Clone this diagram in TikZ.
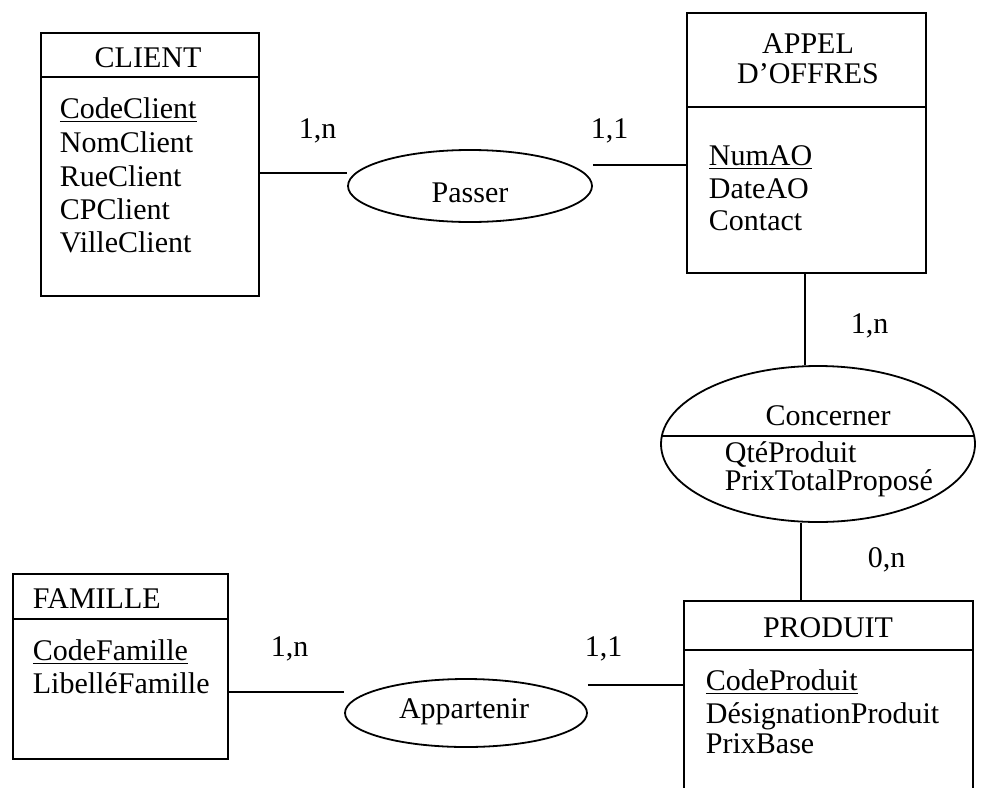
\documentclass[tikz,border=0pt]{standalone}
\usepackage{fontspec}
\setmainfont{Liberation Serif}
\usetikzlibrary{shapes.geometric}
\begin{document}
\begin{tikzpicture}[x=0.5pt,y=-0.5pt,line width=0.9pt,
  every node/.style={font=\fontsize{15}{18}\selectfont},
  entity/.style={draw,rectangle,inner sep=0pt,anchor=north west},
  assoc/.style={draw,ellipse,inner sep=0pt},
  txt/.style={anchor=base west,inner sep=0pt},
  ctxt/.style={anchor=base,inner sep=0pt}]
\useasboundingbox (0,0) rectangle (984,787);
\clip (0,0) rectangle (984,787);
\fill[white] (0,0) rectangle (984,787);

% entities
\node[entity,minimum width=109pt,minimum height=131.5pt] (client) at (40,32) {};
\draw (40,77) -- (258,77);
\node[ctxt] (clientT) at (148,67) {CLIENT};
\node[txt] (c1) at (59,118) {\underline{CodeClient}};
\node[txt] (c2) at (59,152) {NomClient};
\node[txt] (c3) at (59,186) {RueClient};
\node[txt] (c4) at (59,219) {CPClient};
\node[txt] (c5) at (59,252) {VilleClient};

\node[entity,minimum width=119.5pt,minimum height=130pt] (appel) at (686,12) {};
\draw (686,107) -- (925,107);
\node[ctxt] (appelT1) at (808,53) {APPEL};
\node[ctxt] (appelT2) at (808,83) {D’OFFRES};
\node[txt] (a1) at (708,165) {\underline{NumAO}};
\node[txt] (a2) at (708,198) {DateAO};
\node[txt] (a3) at (708,230) {Contact};

\node[entity,minimum width=107.5pt,minimum height=92.5pt] (famille) at (12,573) {};
\draw (12,619) -- (227,619);
\node[txt] (familleT) at (32,608) {FAMILLE};
\node[txt] (f1) at (32,660) {\underline{CodeFamille}};
\node[txt] (f2) at (32,693) {LibelléFamille};

\node[entity,minimum width=144.5pt,minimum height=100pt] (produit) at (683,600) {};
\draw (683,650) -- (972,650);
\node[ctxt] (produitT) at (828,637) {PRODUIT};
\node[txt] (p1) at (705,690) {\underline{CodeProduit}};
\node[txt] (p2) at (705,723) {DésignationProduit};
\node[txt] (p3) at (705,753) {PrixBase};

% associations
\node[assoc,minimum width=122pt,minimum height=36pt] (passer) at (470,186) {};
\node[ctxt] (passerT) at (470,202) {Passer};

\node[assoc,minimum width=121pt,minimum height=34pt] (appart) at (466,713) {};
\node[ctxt] (appartT) at (464,718) {Appartenir};

\node[assoc,minimum width=157pt,minimum height=78pt] (conc) at (818,444) {};
\draw ([shift={(-156,-8)}]conc.center) -- ([shift={(156,-8)}]conc.center);
\node[ctxt] (concT) at (828,425) {Concerner};
\node[txt] (k1) at (724,462) {QtéProduit};
\node[txt] (k2) at (724,490) {PrixTotalProposé};

% connectors
\coordinate (y1) at (0,173);
\coordinate (y2) at (0,165);
\coordinate (y3) at (0,692);
\coordinate (y4) at (0,685);
\coordinate (vx1) at (805,0);
\coordinate (vx2) at (801,0);
\draw (client.east |- y1) -- (passer.west |- y1);
\draw (passer.east |- y2) -- (appel.west |- y2);
\draw (appel.south -| vx1) -- (conc.north -| vx1);
\draw (conc.south -| vx2) -- (produit.north -| vx2);
\draw (famille.east |- y3) -- (appart.west |- y3);
\draw (appart.east |- y4) -- (produit.west |- y4);

% cardinalities
\node[txt] (card1) at (298,138) {1,n};
\node[txt] (card2) at (590,138) {1,1};
\node[txt] (card3) at (850,333) {1,n};
\node[txt] (card4) at (867,567) {0,n};
\node[txt] (card5) at (270,656) {1,n};
\node[txt] (card6) at (584,656) {1,1};
\end{tikzpicture}
\end{document}
